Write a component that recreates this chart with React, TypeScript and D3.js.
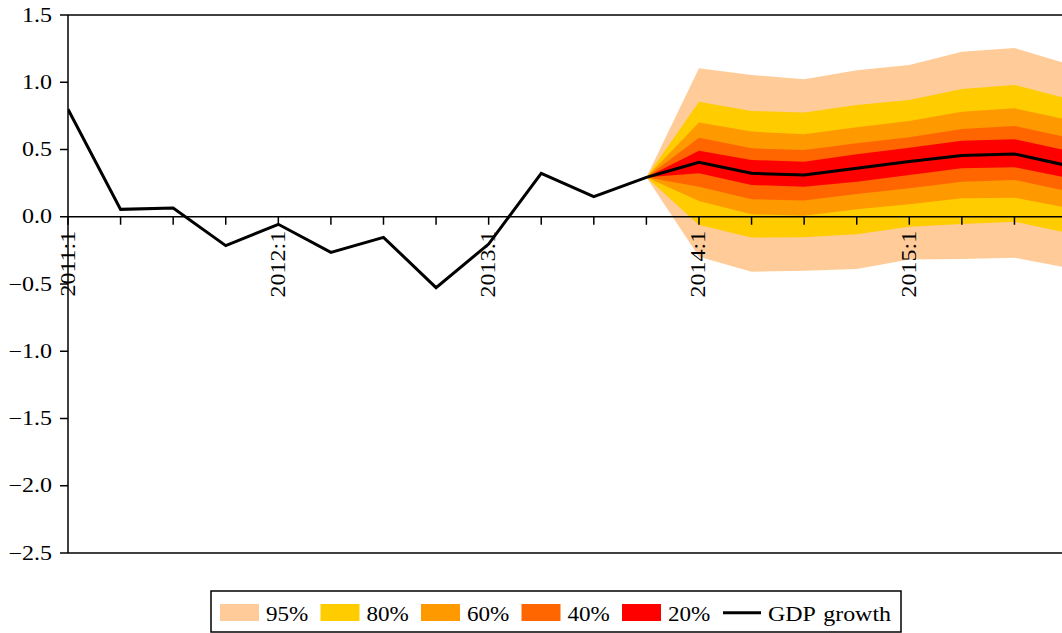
import React from "react";
import * as d3 from "d3";

const quarters = [
  "2011:1", "2011:2", "2011:3", "2011:4",
  "2012:1", "2012:2", "2012:3", "2012:4",
  "2013:1", "2013:2", "2013:3", "2013:4",
  "2014:1", "2014:2", "2014:3", "2014:4",
  "2015:1", "2015:2", "2015:3", "2015:4",
];

const gdpGrowth = [
  0.8, 0.055, 0.065, -0.215, -0.056, -0.265, -0.153, -0.527, -0.203, 0.323,
  0.149, 0.293, 0.405, 0.323, 0.31, 0.36, 0.41, 0.455, 0.467, 0.381,
];

// fan chart starts at 2013:4 (index 11)
const fanStart = 11;
const hi95 = [0.293, 1.104, 1.054, 1.022, 1.09, 1.128, 1.227, 1.255, 1.137];
const hi80 = [0.293, 0.855, 0.786, 0.776, 0.831, 0.868, 0.95, 0.98, 0.879];
const hi60 = [0.293, 0.7, 0.633, 0.613, 0.665, 0.712, 0.781, 0.806, 0.723];
const hi40 = [0.293, 0.588, 0.509, 0.496, 0.546, 0.591, 0.652, 0.675, 0.591];
const hi20 = [0.293, 0.491, 0.422, 0.409, 0.464, 0.513, 0.565, 0.576, 0.491];
const lo20 = [0.293, 0.323, 0.236, 0.223, 0.26, 0.31, 0.36, 0.368, 0.29];
const lo40 = [0.293, 0.223, 0.13, 0.12, 0.169, 0.211, 0.26, 0.273, 0.19];
const lo60 = [0.293, 0.117, 0.018, 0.008, 0.055, 0.093, 0.137, 0.142, 0.067];
const lo80 = [0.293, -0.061, -0.155, -0.153, -0.13, -0.074, -0.054, -0.037, -0.12];
const lo95 = [0.293, -0.297, -0.408, -0.401, -0.388, -0.317, -0.314, -0.304, -0.379];

const bandLabels = ["95%", "80%", "60%", "40%", "20%"];
const bandColors = ["#FFCC99", "#FFCC00", "#FF9900", "#FF6600", "#FF0000"];
const bandLo = [lo95, lo80, lo60, lo40, lo20];
const bandHi = [hi95, hi80, hi60, hi40, hi20];

const yTicks = [1.5, 1.0, 0.5, 0.0, -0.5, -1.0, -1.5, -2.0, -2.5];
const lineLabel = "GDP growth";

const W = 1062;
const H = 633;
const left = 68;
const top = 15;
const bottom = 553;
const right = 1075;
const FONT = "'Liberation Serif', 'Times New Roman', Times, serif";

export default function App() {
  const x = d3.scaleLinear().domain([0, 16]).range([left, 909.3]);
  const y = d3.scaleLinear().domain([-2.5, 1.5]).range([bottom, top]);

  const area = d3
    .area<[number, number, number]>()
    .x((d) => x(d[0]))
    .y0((d) => y(d[1]))
    .y1((d) => y(d[2]));

  const line = d3
    .line<number>()
    .x((_, i) => x(i))
    .y((d) => y(d));

  const fmt = d3.format(".1f");

  const legendItems = [
    { x: 220, label: bandLabels[0], color: bandColors[0] },
    { x: 320.5, label: bandLabels[1], color: bandColors[1] },
    { x: 421, label: bandLabels[2], color: bandColors[2] },
    { x: 521.5, label: bandLabels[3], color: bandColors[3] },
    { x: 622, label: bandLabels[4], color: bandColors[4] },
  ];

  return (
    <svg
      width={W}
      height={H}
      style={{ position: "absolute", left: 0, top: 0, background: "#fff", fontFamily: FONT }}
    >
      <defs>
        <clipPath id="plotclip">
          <rect x={left} y={top} width={right - left} height={bottom - top} />
        </clipPath>
      </defs>
      <g clipPath="url(#plotclip)">
        {bandColors.map((c, b) => {
          const pts: [number, number, number][] = bandLo[b].map((lo, k) => [
            fanStart + k,
            lo,
            bandHi[b][k],
          ]);
          return <path key={b} d={area(pts) || ""} fill={c} stroke="none" />;
        })}
      </g>
      {/* frame */}
      <line x1={left} x2={W} y1={top} y2={top} stroke="#000" strokeWidth={1.5} />
      <line x1={left} x2={W} y1={bottom} y2={bottom} stroke="#000" strokeWidth={1.5} />
      <line x1={left} x2={left} y1={top} y2={bottom} stroke="#000" strokeWidth={1.5} />
      {/* y ticks */}
      {yTicks.map((t) => (
        <g key={t}>
          <line x1={left - 8} x2={left} y1={y(t)} y2={y(t)} stroke="#000" strokeWidth={1.5} />
          <text
            transform={`translate(${left - 16},${y(t) + 6.5}) scale(1.2,1)`}
            textAnchor="end"
            fontSize={20}
            fill="#000"
          >
            {fmt(t)}
          </text>
        </g>
      ))}
      {/* zero axis */}
      <line x1={left} x2={W} y1={y(0)} y2={y(0)} stroke="#000" strokeWidth={1.5} />
      {quarters.map((q, i) => (
        <line
          key={q}
          x1={x(i)}
          x2={x(i)}
          y1={y(0)}
          y2={y(0) + 8}
          stroke="#000"
          strokeWidth={1.5}
        />
      ))}
      {quarters.map((q, i) =>
        i % 4 === 0 ? (
          <text
            key={"l" + q}
            transform={`translate(${x(i) + 6.5},${y(0) + 14}) rotate(-90) scale(1.2,1)`}
            textAnchor="end"
            fontSize={20}
            fill="#000"
          >
            {q}
          </text>
        ) : null
      )}
      {/* GDP line */}
      <g clipPath="url(#plotclip)">
        <path
          d={line(gdpGrowth) || ""}
          fill="none"
          stroke="#000"
          strokeWidth={3}
          strokeLinejoin="miter"
        />
      </g>
      {/* legend */}
      <rect x={211} y={591} width={690} height={41} fill="#fff" stroke="#000" strokeWidth={1.5} />
      {legendItems.map((it) => (
        <g key={it.label}>
          <rect x={it.x} y={604} width={39} height={17} fill={it.color} />
          <text
            transform={`translate(${it.x + 46},${621}) scale(1.1,1)`}
            fontSize={21}
            fill="#000"
          >
            {it.label}
          </text>
        </g>
      ))}
      <line x1={723} x2={761} y1={612.7} y2={612.7} stroke="#000" strokeWidth={3} />
      <text
        transform={`translate(768,621) scale(1.14,1)`}
        fontSize={21}
        wordSpacing={2}
        fill="#000"
      >
        {lineLabel}
      </text>
    </svg>
  );
}
